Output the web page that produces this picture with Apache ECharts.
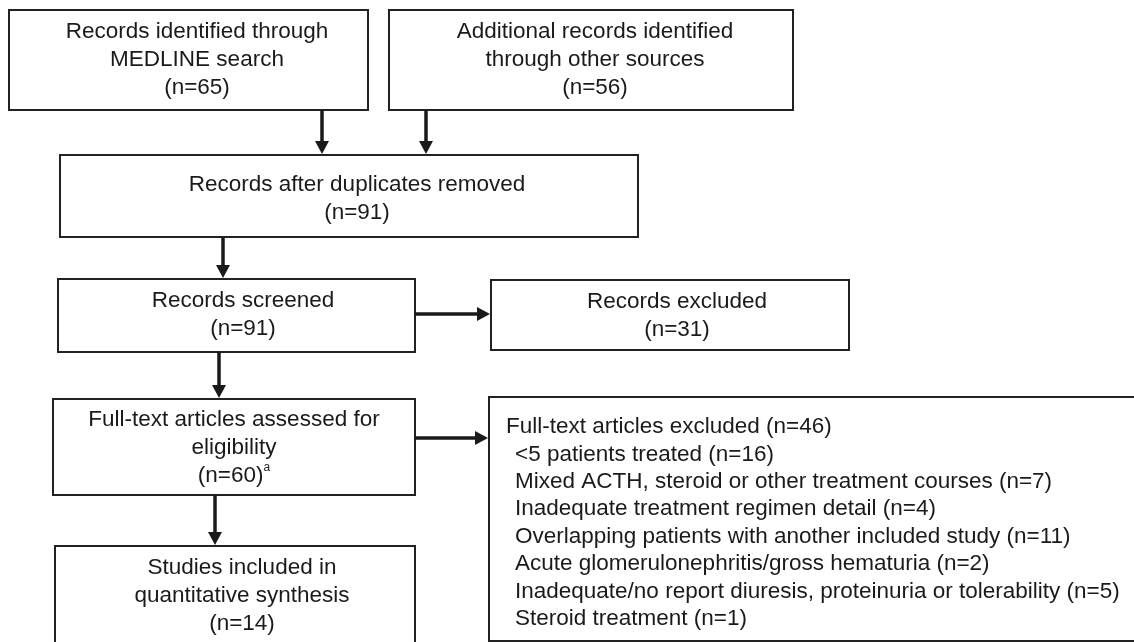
<!DOCTYPE html>
<html>
<head>
<meta charset="utf-8">
<title>Study selection flow</title>
<script src="https://cdn.jsdelivr.net/npm/echarts@6/dist/echarts.min.js"></script>
<style>
  html, body { margin: 0; padding: 0; background: #fff; }
  #chart { width: 1134px; height: 642px; }
</style>
</head>
<body>
<div id="chart"></div>
<script>
// flow stages (box texts) and their counts
const stageNames = [
  'Records identified through\nMEDLINE search',
  'Additional records identified\nthrough other sources',
  'Records after duplicates removed',
  'Records screened',
  'Records excluded',
  'Full-text articles assessed for\neligibility',
  'Full-text articles excluded',
  'Studies included in\nquantitative synthesis'
];
const stageCounts = [65, 56, 91, 91, 31, 60, 46, 14];
const stageNotes = ['', '', '', '', '', 'a', '', ''];

// reasons for full-text exclusion
const exclusionReasons = [
  '<5 patients treated',
  'Mixed ACTH, steroid or other treatment courses',
  'Inadequate treatment regimen detail',
  'Overlapping patients with another included study',
  'Acute glomerulonephritis/gross hematuria',
  'Inadequate/no report diuresis, proteinuria or tolerability',
  'Steroid treatment'
];
const exclusionCounts = [16, 7, 4, 11, 2, 5, 1];

// layout, in units of the hidden axes (x 0..1134, y 0..642 downwards)
const boxRects = [
  [9, 10, 368, 110],
  [389, 10, 793, 110],
  [60, 155, 638, 237],
  [58, 279, 415, 352],
  [491, 280, 849, 350],
  [53, 399, 415, 495],
  [489, 397, 1140, 641],
  [55, 546, 415, 660]
];
const textAnchors = [[197, 60], [595, 60], [357, 199], [243, 315], [677, 316], [234, 448], [506, 427], [242, 596]];
const listIndent = 9;
const listLineGap = 27.4;
const arrowPaths = [
  [322, 110, 322, 154],
  [426, 110, 426, 154],
  [223, 237, 223, 278],
  [415, 314, 490, 314],
  [219, 352, 219, 398],
  [415, 438, 488, 438],
  [215, 495, 215, 545]
];

const FONT = '22.5px "Liberation Sans", Arial, sans-serif';
const INK = '#1a1a1a';

const chart = echarts.init(document.getElementById('chart'));

function boxText(i) {
  let t = stageNames[i] + '\n(n=' + stageCounts[i] + ')';
  if (stageNotes[i]) t += '{s|' + stageNotes[i] + '}';
  return t;
}

function renderBox(params, api) {
  const i = api.value(0);
  const r = boxRects[i];
  const p0 = api.coord([r[0], r[1]]);
  const p1 = api.coord([r[2], r[3]]);
  const a = api.coord(textAnchors[i]);
  const children = [{
    type: 'rect',
    shape: { x: p0[0], y: p0[1], width: p1[0] - p0[0], height: p1[1] - p0[1] },
    style: { fill: '#fff', stroke: '#222', lineWidth: 2 }
  }];
  if (i === 6) {
    // exclusion box: heading plus indented list
    children.push({
      type: 'text',
      style: {
        x: a[0], y: a[1], text: stageNames[i] + ' (n=' + stageCounts[i] + ')',
        font: FONT, fill: INK, textAlign: 'left', textVerticalAlign: 'middle'
      }
    });
    exclusionReasons.forEach((reason, k) => {
      const q = api.coord([textAnchors[i][0] + listIndent, textAnchors[i][1] + listLineGap * (k + 1)]);
      children.push({
        type: 'text',
        style: {
          x: q[0], y: q[1], text: reason + ' (n=' + exclusionCounts[k] + ')',
          font: FONT, fill: INK, textAlign: 'left', textVerticalAlign: 'middle'
        }
      });
    });
  } else {
    children.push({
      type: 'text',
      style: {
        x: a[0], y: a[1], text: boxText(i),
        font: FONT, fill: INK, lineHeight: 28,
        textAlign: 'center', textVerticalAlign: 'middle',
        rich: { s: { fontSize: 12, fontFamily: '"Liberation Sans", Arial, sans-serif', verticalAlign: 'top', fill: INK } }
      }
    });
  }
  return { type: 'group', children: children };
}

function renderArrow(params, api) {
  const p = arrowPaths[api.value(0)];
  const a = api.coord([p[0], p[1]]);
  const b = api.coord([p[2], p[3]]);
  const dx = b[0] - a[0], dy = b[1] - a[1];
  const len = Math.sqrt(dx * dx + dy * dy);
  const ux = dx / len, uy = dy / len;
  const head = 13, half = 7;
  const base = [b[0] - ux * head, b[1] - uy * head];
  return {
    type: 'group',
    children: [{
      type: 'line',
      shape: { x1: a[0], y1: a[1], x2: base[0] + ux, y2: base[1] + uy },
      style: { stroke: INK, lineWidth: 3.5 }
    }, {
      type: 'polygon',
      shape: { points: [b, [base[0] - uy * half, base[1] + ux * half], [base[0] + uy * half, base[1] - ux * half]] },
      style: { fill: INK }
    }]
  };
}

const option = {
  backgroundColor: '#fff',
  animation: false,
  grid: { left: 0, right: 0, top: 0, bottom: 0 },
  xAxis: { type: 'value', min: 0, max: 1134, show: false },
  yAxis: { type: 'value', min: 0, max: 642, inverse: true, show: false },
  series: [
    {
      type: 'custom',
      name: 'stages',
      silent: true,
      clip: false,
      renderItem: renderBox,
      data: stageNames.map((_, i) => [i])
    },
    {
      type: 'custom',
      name: 'arrows',
      silent: true,
      clip: false,
      renderItem: renderArrow,
      data: arrowPaths.map((_, i) => [i])
    }
  ]
};
chart.setOption(option);
</script>
</body>
</html>
